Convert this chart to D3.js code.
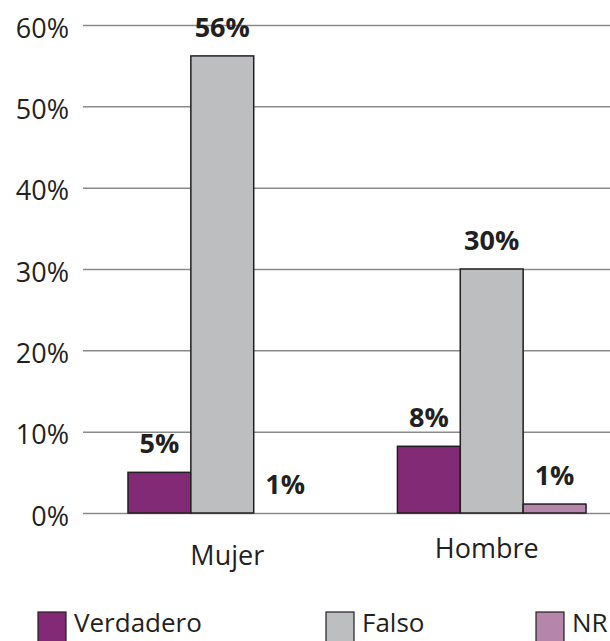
<!DOCTYPE html>
<html>
<head>
<meta charset="utf-8">
<script src="https://cdn.jsdelivr.net/npm/d3@7"></script>
<style>
  body { margin: 0; background: #fff; overflow: hidden; }
  text { font-family: "Open Sans", sans-serif; fill: #231f20; }
</style>
</head>
<body>
<svg></svg>
<script>
const categories = ["Mujer", "Hombre"];
const seriesNames = ["Verdadero", "Falso", "NR"];
const verdadero = [5, 8.2];
const falso = [56.2, 30];
const nr = [0, 1.1];
const valueLabels = [["5%", "56%", "1%"], ["8%", "30%", "1%"]];
const yTicks = [0, 10, 20, 30, 40, 50, 60];
const colors = ["#832a76", "#bcbec0", "#b585ab"];

const width = 610;
const height = 641;
const svg = d3.select("svg").attr("width", width).attr("height", height);

const margin = { left: 83, top: 25, bottom: 128 };
const plotBottom = height - margin.bottom;

const seriesValues = [verdadero, falso, nr];
const data = categories.map((c, i) => ({
  category: c,
  values: seriesNames.map((s, j) => ({ series: s, value: seriesValues[j][i], label: valueLabels[i][j], idx: j })),
}));

const yScale = d3.scaleLinear().domain([0, 60]).range([plotBottom, margin.top]);
const xScale = d3.scaleBand().domain(categories).range([83, 631]).paddingInner(0.3).paddingOuter(0.167);
const xSub = d3.scaleBand().domain(seriesNames).range([0, xScale.bandwidth()]);

// gridlines + y labels
const yAxis = d3.axisLeft(yScale).tickValues(yTicks).tickFormat((d) => d + "%").tickSize(-(width - margin.left)).tickPadding(14);
const yAxisG = svg.append("g").attr("transform", `translate(${margin.left},0)`).call(yAxis);
yAxisG.select(".domain").remove();
yAxisG.selectAll(".tick line").attr("stroke", "#8a8a8c").attr("stroke-width", 1.5);
yAxisG.selectAll(".tick text").attr("font-size", 27).attr("font-family", null).attr("fill", "#231f20").attr("dy", "0.45em");

const groups = svg.selectAll(".grp").data(data).enter().append("g")
  .attr("transform", (d) => `translate(${xScale(d.category)},0)`);

groups.selectAll("rect").data((d) => d.values.filter((v) => v.value > 0)).enter().append("rect")
  .attr("x", (d) => xSub(d.series))
  .attr("y", (d) => yScale(d.value))
  .attr("width", xSub.bandwidth())
  .attr("height", (d) => plotBottom - yScale(d.value))
  .attr("fill", (d) => colors[d.idx])
  .attr("stroke", "#231f20")
  .attr("stroke-width", 1.5);

groups.selectAll(".vl").data((d) => d.values).enter().append("text")
  .attr("class", "vl")
  .attr("x", (d) => xSub(d.series) + xSub.bandwidth() / 2)
  .attr("y", (d) => yScale(d.value) - 19)
  .attr("text-anchor", "middle")
  .attr("font-size", 27)
  .attr("font-weight", "bold")
  .text((d) => d.label);

// category labels (Hombre sits a bit higher in the original)
svg.selectAll(".cat").data(categories).enter().append("text")
  .attr("x", (d, i) => xScale(d) + xScale.bandwidth() / 2 + (i ? -5 : 5))
  .attr("y", (d, i) => (i ? 558 : 565))
  .attr("text-anchor", "middle")
  .attr("font-size", 27)
  .text((d) => d);

// legend
const legendX = [38, 326, 536];
const legend = svg.selectAll(".leg").data(seriesNames).enter().append("g")
  .attr("transform", (d, i) => `translate(${legendX[i]},612)`);
legend.append("rect").attr("width", 28).attr("height", 34)
  .attr("fill", (d, i) => colors[i]).attr("stroke", "#231f20").attr("stroke-width", 1.2);
legend.append("text").attr("x", 36).attr("y", 20).attr("font-size", 26).text((d) => d);
</script>
</body>
</html>
